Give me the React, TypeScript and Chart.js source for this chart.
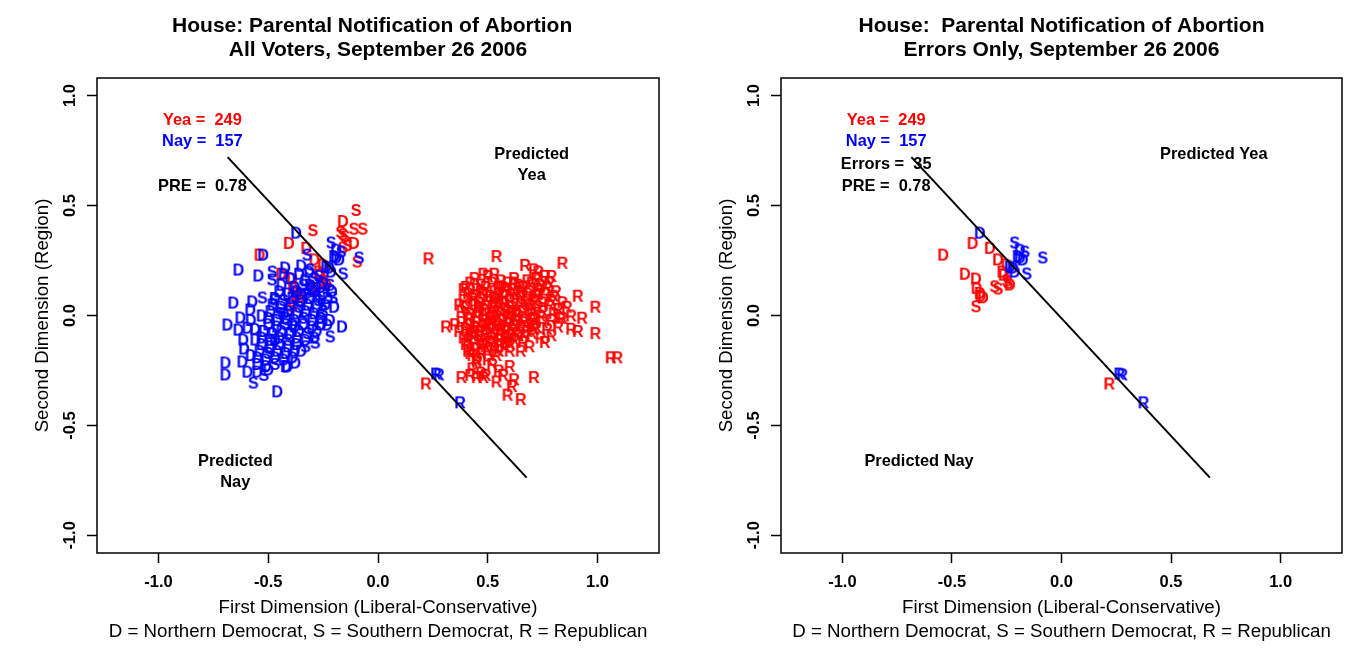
import React, { useEffect, useRef } from "react";
import { Chart, registerables } from "chart.js";

Chart.register(...registerables);

type Pt = [number, number];

const FONT = "'Liberation Sans', Arial, Helvetica, sans-serif";
const RED = "#FF0000";
const BLUE = "#0000FF";
const BLACK = "#000000";

// Axis settings
const X_RANGE: Pt = [-1.28, 1.28];
const Y_RANGE: Pt = [-1.08, 1.08];
const X_TICKS = [-1.0, -0.5, 0.0, 0.5, 1.0];
const Y_TICKS = [-1.0, -0.5, 0.0, 0.5, 1.0];

const LEFT_TITLE = ["House: Parental Notification of Abortion  ", "All Voters, September 26 2006"];
const RIGHT_TITLE = ["House:  Parental Notification of Abortion", "Errors Only, September 26 2006"];
const X_TITLE = ["First Dimension (Liberal-Conservative)", "D = Northern Democrat, S = Southern Democrat, R = Republican"];
const Y_TITLE = "Second Dimension (Region)";

// Cutting line
const CUT_X = [-0.685, 0.677];
const CUT_Y = [0.72, -0.737];

// Yea voters (red)
const yeaRepublicans: Pt[] = [
  [0.23, 0.26], [0.54, 0.27], [0.84, 0.24], [0.67, 0.23], [0.71, 0.21], [0.76, 0.18], [0.48, 0.19], [0.53, 0.19],
  [0.79, 0.18], [0.73, 0.2], [0.39, 0.12], [0.91, 0.09], [0.99, 0.04], [0.37, 0.05], [0.31, -0.05], [0.35, -0.04],
  [0.88, -0.06], [0.91, -0.07], [0.99, -0.08], [0.79, -0.09], [0.83, -0.01], [0.88, 0.0], [0.93, -0.01], [1.06, -0.19],
  [1.09, -0.19], [0.71, -0.28], [0.65, -0.38], [0.59, -0.36], [0.61, -0.32], [0.62, -0.29], [0.57, -0.27], [0.54, -0.3],
  [0.45, -0.28], [0.48, -0.28], [0.43, -0.24], [0.47, -0.26], [0.55, -0.25], [0.6, -0.23], [0.5, -0.2], [0.52, -0.22],
  [0.45, -0.2], [0.42, -0.17], [0.4, -0.13], [0.41, -0.16], [0.55, -0.16], [0.6, -0.13], [0.65, -0.16], [0.69, -0.14],
  [0.74, -0.1], [0.76, -0.12], [0.71, -0.06], [0.64, -0.09], [0.58, -0.12], [0.52, -0.1], [0.47, -0.11], [0.43, -0.09],
  [0.39, -0.1], [0.37, -0.07], [0.38, -0.28], [0.42, -0.27], [0.49, -0.27], [0.45, -0.21],
  [0.44, 0.17], [0.5, 0.18], [0.56, 0.16], [0.62, 0.17], [0.68, 0.16], [0.72, 0.17],
  [0.42, 0.15], [0.47, 0.14], [0.52, 0.15], [0.55, 0.13], [0.59, 0.15], [0.64, 0.14], [0.7, 0.15], [0.74, 0.14], [0.78, 0.15],
  [0.4, 0.13], [0.45, 0.12], [0.49, 0.13], [0.53, 0.11], [0.57, 0.13], [0.61, 0.12], [0.66, 0.13], [0.69, 0.11], [0.73, 0.12], [0.77, 0.13], [0.81, 0.11],
  [0.41, 0.1], [0.44, 0.09], [0.48, 0.1], [0.51, 0.09], [0.55, 0.1], [0.58, 0.09], [0.62, 0.1], [0.65, 0.09], [0.68, 0.1], [0.72, 0.09], [0.76, 0.1], [0.8, 0.09],
  [0.39, 0.07], [0.43, 0.08], [0.46, 0.06], [0.5, 0.07], [0.53, 0.08], [0.57, 0.06], [0.6, 0.07], [0.63, 0.08], [0.67, 0.06], [0.71, 0.07], [0.75, 0.06], [0.79, 0.07], [0.84, 0.06],
  [0.4, 0.04], [0.44, 0.05], [0.48, 0.03], [0.52, 0.04], [0.55, 0.05], [0.58, 0.03], [0.61, 0.04], [0.65, 0.05], [0.69, 0.03], [0.73, 0.04], [0.78, 0.05], [0.82, 0.03], [0.86, 0.04],
  [0.38, 0.02], [0.42, 0.01], [0.46, 0.02], [0.49, 0.01], [0.53, 0.02], [0.56, 0.01], [0.59, 0.02], [0.63, 0.01], [0.66, 0.02], [0.7, 0.01], [0.75, 0.02], [0.8, 0.01],
  [0.41, -0.01], [0.45, 0.0], [0.48, -0.02], [0.51, -0.01], [0.54, 0.0], [0.57, -0.02], [0.6, -0.01], [0.64, 0.0], [0.67, -0.02], [0.71, -0.01], [0.74, 0.0], [0.79, -0.02], [0.84, -0.01],
  [0.38, -0.03], [0.42, -0.04], [0.45, -0.03], [0.49, -0.04], [0.52, -0.03], [0.55, -0.04], [0.59, -0.03], [0.62, -0.04], [0.66, -0.03], [0.7, -0.04], [0.75, -0.03],
  [0.4, -0.06], [0.44, -0.05], [0.47, -0.07], [0.51, -0.06], [0.54, -0.05], [0.58, -0.07], [0.61, -0.06], [0.65, -0.05], [0.68, -0.07], [0.72, -0.05], [0.77, -0.06],
  [0.42, -0.08], [0.46, -0.09], [0.49, -0.08], [0.53, -0.09], [0.56, -0.08], [0.6, -0.09], [0.63, -0.08], [0.67, -0.09], [0.7, -0.08], [0.82, -0.05],
  [0.41, -0.11], [0.44, -0.12], [0.48, -0.13], [0.51, -0.12], [0.55, -0.11], [0.58, -0.14], [0.62, -0.11], [0.66, -0.12],
  [0.45, -0.15], [0.49, -0.14], [0.53, -0.15], [0.56, -0.13], [0.6, -0.16],
  [0.43, -0.18], [0.47, -0.17], [0.5, -0.16], [0.54, -0.18],
  [0.47, 0.11], [0.53, 0.06], [0.57, 0.09], [0.61, 0.02], [0.5, -0.04], [0.56, -0.06], [0.63, -0.02], [0.69, 0.05],
  [0.73, 0.1], [0.58, 0.12], [0.46, 0.04], [0.52, 0.0], [0.65, 0.11], [0.59, -0.1], [0.44, -0.07], [0.71, -0.02], [0.62, 0.15],
];
const yeaRepublicansError: Pt[] = [[0.218, -0.309]];
const yeaNorthDem: Pt[] = [[-0.16, 0.43], [-0.11, 0.33]];
const yeaSouthDem: Pt[] = [
  [-0.1, 0.48], [-0.11, 0.395], [-0.07, 0.395], [-0.297, 0.388], [-0.16, 0.37], [-0.14, 0.32], [-0.16, 0.31],
  [-0.095, 0.245], [-0.17, 0.38], [-0.15, 0.36],
];
const yeaNorthDemError: Pt[] = [
  [-0.406, 0.33], [-0.54, 0.277], [-0.327, 0.308], [-0.29, 0.255], [-0.251, 0.232], [-0.441, 0.19], [-0.391, 0.168],
  [-0.264, 0.186], [-0.388, 0.126], [-0.373, 0.103], [-0.358, 0.083], [-0.236, 0.141], [-0.27, 0.2], [-0.37, 0.09],
];
const yeaSouthDemError: Pt[] = [[-0.305, 0.133], [-0.29, 0.123], [-0.244, 0.149], [-0.391, 0.042], [-0.25, 0.16]];

// Nay voters (blue)
const nayNorthDem: Pt[] = [
  [-0.636, 0.209], [-0.523, 0.277], [-0.545, 0.182], [-0.423, 0.218], [-0.35, 0.227], [-0.314, 0.2], [-0.659, 0.059],
  [-0.573, 0.064], [-0.582, 0.027], [-0.627, -0.009], [-0.686, -0.041], [-0.636, -0.064], [-0.595, -0.055], [-0.614, -0.109],
  [-0.559, -0.109], [-0.164, -0.05], [-0.232, -0.041], [-0.695, -0.214], [-0.695, -0.268], [-0.618, -0.209], [-0.595, -0.255],
  [-0.55, -0.255], [-0.5, -0.245], [-0.414, -0.232], [-0.377, -0.214], [-0.459, -0.345],
  [-0.4, 0.17], [-0.33, 0.16], [-0.25, 0.15],
  [-0.44, 0.14], [-0.38, 0.13], [-0.3, 0.12], [-0.26, 0.13],
  [-0.45, 0.11], [-0.41, 0.1], [-0.37, 0.11], [-0.29, 0.11], [-0.25, 0.1], [-0.21, 0.11],
  [-0.47, 0.08], [-0.39, 0.08], [-0.35, 0.07], [-0.31, 0.08], [-0.23, 0.08],
  [-0.48, 0.05], [-0.44, 0.04], [-0.4, 0.05], [-0.32, 0.05], [-0.28, 0.04], [-0.24, 0.05], [-0.2, 0.04],
  [-0.49, 0.02], [-0.41, 0.02], [-0.37, 0.01], [-0.33, 0.02], [-0.29, 0.01],
  [-0.5, -0.01], [-0.46, -0.02], [-0.42, -0.01], [-0.38, -0.02], [-0.3, -0.02], [-0.26, -0.01], [-0.22, -0.02],
  [-0.5, -0.04], [-0.46, -0.05], [-0.38, -0.05], [-0.34, -0.04], [-0.3, -0.05], [-0.26, -0.04],
  [-0.52, -0.07], [-0.48, -0.08], [-0.44, -0.07], [-0.4, -0.08], [-0.36, -0.07], [-0.28, -0.07],
  [-0.53, -0.1], [-0.49, -0.11], [-0.45, -0.1], [-0.37, -0.1], [-0.33, -0.11], [-0.29, -0.1],
  [-0.53, -0.13], [-0.49, -0.14], [-0.45, -0.13], [-0.41, -0.14], [-0.37, -0.13],
  [-0.54, -0.16], [-0.46, -0.16], [-0.42, -0.17], [-0.38, -0.16],
  [-0.55, -0.19], [-0.51, -0.2], [-0.47, -0.19], [-0.43, -0.2], [-0.39, -0.19],
  [-0.55, -0.22], [-0.51, -0.23], [-0.42, -0.23],
  [-0.43, 0.19], [-0.36, 0.19], [-0.31, 0.14], [-0.35, 0.1], [-0.43, 0.01], [-0.39, -0.04], [-0.47, -0.11],
  [-0.35, -0.16], [-0.58, -0.18], [-0.61, -0.15], [-0.56, -0.06], [-0.53, 0.0], [-0.58, -0.02],
];
const naySouthDem: Pt[] = [
  [-0.482, 0.2], [-0.323, 0.277], [-0.483, 0.164], [-0.527, 0.082], [-0.286, -0.123], [-0.205, 0.082], [-0.568, -0.305],
  [-0.473, 0.073], [-0.264, -0.009], [-0.218, -0.095], [-0.255, 0.05], [-0.282, 0.091],
  [-0.29, 0.17], [-0.34, 0.14], [-0.22, 0.14], [-0.33, 0.1], [-0.43, 0.07], [-0.27, 0.07], [-0.36, 0.04], [-0.45, 0.01],
  [-0.25, 0.02], [-0.34, -0.01], [-0.42, -0.04], [-0.32, -0.08], [-0.41, -0.11], [-0.33, -0.14], [-0.5, -0.17], [-0.47, -0.22],
  [-0.31, 0.21], [-0.27, 0.18], [-0.52, -0.27],
];
const nayNorthDemError: Pt[] = [
  [-0.373, 0.377], [-0.191, 0.3], [-0.191, 0.264], [-0.177, 0.255], [-0.236, 0.223], [-0.223, 0.218], [-0.214, 0.2], [-0.2, 0.27],
];
const naySouthDemError: Pt[] = [[-0.214, 0.332], [-0.168, 0.291], [-0.086, 0.264], [-0.159, 0.191]];
const nayRepublicansError: Pt[] = [[0.264, -0.264], [0.277, -0.268], [0.374, -0.395]];

type Group = { pts: Pt[]; ch: string; color: string };
type Note = { text: string; x: number; y: number; color: string };

const LEFT_GROUPS: Group[] = [
  { pts: nayRepublicansError, ch: "R", color: BLUE },
  { pts: yeaRepublicansError, ch: "R", color: RED },
  { pts: yeaRepublicans, ch: "R", color: RED },
  { pts: nayNorthDemError, ch: "D", color: BLUE },
  { pts: naySouthDemError, ch: "S", color: BLUE },
  { pts: yeaSouthDem, ch: "S", color: RED },
  { pts: yeaNorthDem, ch: "D", color: RED },
  { pts: naySouthDem, ch: "S", color: BLUE },
  { pts: nayNorthDem, ch: "D", color: BLUE },
  { pts: yeaSouthDemError, ch: "S", color: RED },
  { pts: yeaNorthDemError, ch: "D", color: RED },
];
const RIGHT_GROUPS: Group[] = [
  { pts: nayRepublicansError, ch: "R", color: BLUE },
  { pts: yeaRepublicansError, ch: "R", color: RED },
  { pts: nayNorthDemError, ch: "D", color: BLUE },
  { pts: naySouthDemError, ch: "S", color: BLUE },
  { pts: yeaSouthDemError, ch: "S", color: RED },
  { pts: yeaNorthDemError, ch: "D", color: RED },
];

const LEFT_NOTES: Note[] = [
  { text: "Yea =  249", x: -0.8, y: 0.895, color: RED },
  { text: "Nay =  157", x: -0.8, y: 0.8, color: BLUE },
  { text: "PRE =  0.78", x: -0.8, y: 0.595, color: BLACK },
  { text: "Predicted", x: 0.7, y: 0.741, color: BLACK },
  { text: "Yea", x: 0.7, y: 0.645, color: BLACK },
  { text: "Predicted", x: -0.65, y: -0.655, color: BLACK },
  { text: "Nay", x: -0.65, y: -0.75, color: BLACK },
];
const RIGHT_NOTES: Note[] = [
  { text: "Yea =  249", x: -0.8, y: 0.895, color: RED },
  { text: "Nay =  157", x: -0.8, y: 0.8, color: BLUE },
  { text: "Errors =  35", x: -0.8, y: 0.694, color: BLACK },
  { text: "PRE =  0.78", x: -0.8, y: 0.595, color: BLACK },
  { text: "Predicted Yea", x: 0.695, y: 0.741, color: BLACK },
  { text: "Predicted Nay", x: -0.65, y: -0.655, color: BLACK },
];

const LETTER_SIZE = 16;

function makeLetter(ch: string, color: string): HTMLCanvasElement {
  const c = document.createElement("canvas");
  c.width = 20;
  c.height = 20;
  const g = c.getContext("2d")!;
  g.font = `bold ${LETTER_SIZE}px ${FONT}`;
  g.fillStyle = color;
  g.textAlign = "center";
  g.textBaseline = "alphabetic";
  g.fillText(ch, 10, 10 + LETTER_SIZE * 0.358);
  return c;
}

function makeChart(canvas: HTMLCanvasElement, title: string[], groups: Group[], notes: Note[]) {
  const cache: Record<string, HTMLCanvasElement> = {};
  const img = (ch: string, color: string) => (cache[ch + color] ||= makeLetter(ch, color));

  const datasets: any[] = [
    {
      data: CUT_X.map((x, i) => ({ x, y: CUT_Y[i] })),
      showLine: true,
      borderColor: BLACK,
      borderWidth: 2,
      pointRadius: 0,
      pointHoverRadius: 0,
    },
    ...groups.map((g) => ({
      data: g.pts.map(([x, y]) => ({ x, y })),
      pointStyle: img(g.ch, g.color),
      pointRadius: 5,
      pointHoverRadius: 5,
      showLine: false,
    })),
  ];

  const boxPlugin = {
    id: "box",
    afterDraw(chart: any) {
      const { ctx, chartArea: a } = chart;
      ctx.save();
      ctx.strokeStyle = BLACK;
      ctx.lineWidth = 1.5;
      ctx.strokeRect(a.left, a.top, a.right - a.left, a.bottom - a.top);
      ctx.restore();
    },
  };

  const notesPlugin = {
    id: "notes",
    afterDatasetsDraw(chart: any) {
      const { ctx } = chart;
      const xs = chart.scales.x;
      const ys = chart.scales.y;
      ctx.save();
      ctx.font = `bold 16.4px ${FONT}`;
      ctx.textAlign = "center";
      ctx.textBaseline = "middle";
      for (const n of notes) {
        ctx.fillStyle = n.color;
        ctx.fillText(n.text, xs.getPixelForValue(n.x), ys.getPixelForValue(n.y) + 2);
      }
      ctx.restore();
    },
  };

  const tickFont = { family: FONT, size: 16.5, weight: "bold" as const };
  const titleFont = { family: FONT, size: 18.7, lineHeight: "24px" };

  return new Chart(canvas, {
    type: "scatter",
    data: { datasets },
    options: {
      responsive: false,
      animation: false,
      events: [],
      layout: { padding: { left: 0, right: 24, top: 0, bottom: 0 } },
      plugins: {
        legend: { display: false },
        tooltip: { enabled: false },
        title: {
          display: true,
          text: title,
          fullSize: false,
          color: BLACK,
          font: { family: FONT, size: 21, weight: "bold", lineHeight: "24px" },
          padding: { top: 14, bottom: 16 },
        },
      },
      scales: {
        x: {
          type: "linear",
          min: X_RANGE[0],
          max: X_RANGE[1],
          afterBuildTicks: (s: any) => {
            s.ticks = X_TICKS.map((v) => ({ value: v }));
          },
          afterFit: (s: any) => {
            s.height = 98;
          },
          ticks: {
            callback: (v: any) => Number(v).toFixed(1),
            font: tickFont,
            color: BLACK,
            padding: 10,
            autoSkip: false,
            maxRotation: 0,
          },
          grid: { drawOnChartArea: false, drawTicks: true, tickLength: 10, tickColor: BLACK, tickWidth: 1.5 },
          border: { display: false },
          title: { display: true, text: X_TITLE, color: BLACK, font: titleFont, padding: { top: 0, bottom: 7 } },
        },
        y: {
          type: "linear",
          min: Y_RANGE[0],
          max: Y_RANGE[1],
          afterBuildTicks: (s: any) => {
            s.ticks = Y_TICKS.map((v) => ({ value: v }));
          },
          afterFit: (s: any) => {
            s.width = 97;
          },
          ticks: {
            callback: (v: any) => Number(v).toFixed(1),
            font: tickFont,
            color: BLACK,
            padding: 2,
            autoSkip: false,
            minRotation: 90,
            maxRotation: 90,
            crossAlign: "center",
          },
          grid: { drawOnChartArea: false, drawTicks: true, tickLength: 10, tickColor: BLACK, tickWidth: 1.5 },
          border: { display: false },
          title: {
            display: true,
            text: Y_TITLE,
            color: BLACK,
            font: { family: FONT, size: 18.7, lineHeight: 1.2 },
            padding: { top: 32, bottom: 0 },
          },
        },
      },
    } as any,
    plugins: [boxPlugin, notesPlugin],
  });
}

export default function App() {
  const leftRef = useRef<HTMLCanvasElement>(null);
  const rightRef = useRef<HTMLCanvasElement>(null);

  useEffect(() => {
    const a = makeChart(leftRef.current!, LEFT_TITLE, LEFT_GROUPS, LEFT_NOTES);
    const b = makeChart(rightRef.current!, RIGHT_TITLE, RIGHT_GROUPS, RIGHT_NOTES);
    return () => {
      a.destroy();
      b.destroy();
    };
  }, []);

  return (
    <div style={{ position: "fixed", left: 0, top: 0, width: 1366, height: 651, background: "#ffffff" }}>
      <canvas ref={leftRef} width={683} height={651} style={{ position: "absolute", left: 0, top: 0, width: 683, height: 651 }} />
      <canvas ref={rightRef} width={682} height={651} style={{ position: "absolute", left: 684, top: 0, width: 682, height: 651 }} />
    </div>
  );
}
